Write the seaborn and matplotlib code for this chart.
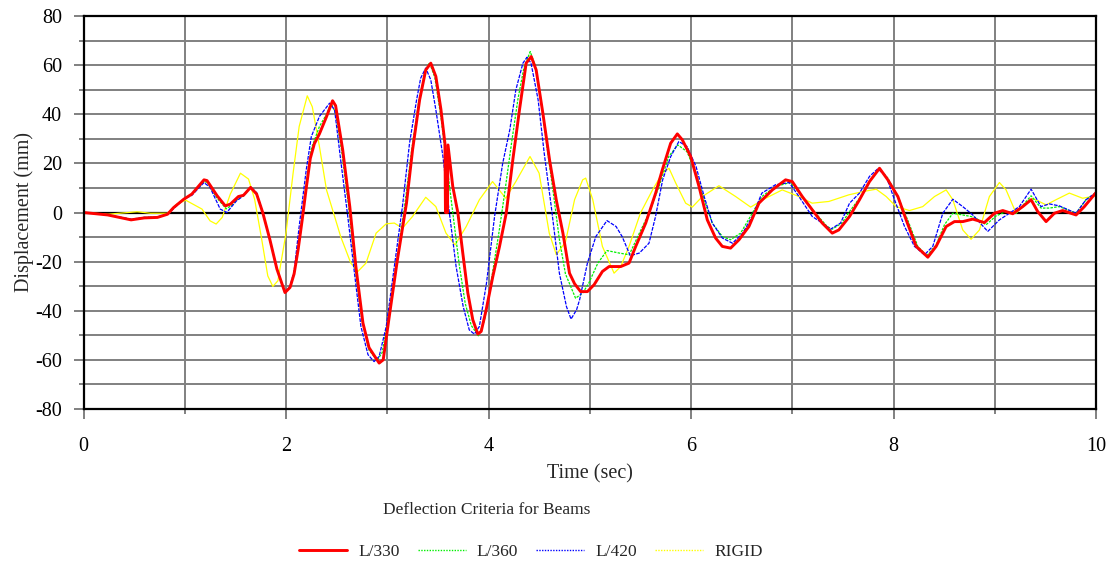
import numpy as np
import pandas as pd
import matplotlib
matplotlib.use("Agg")
import matplotlib.pyplot as plt
from matplotlib.ticker import MultipleLocator
import seaborn as sns

# ---------------- data ----------------
t_l330 = [0, 0.24, 0.47, 0.6, 0.73, 0.83, 0.89, 0.99, 1.07, 1.19, 1.22, 1.32, 1.40, 1.45, 1.53, 1.58,
          1.65, 1.71, 1.77, 1.84, 1.91, 1.99, 2.04, 2.08, 2.12, 2.16, 2.2, 2.24, 2.28, 2.33, 2.4, 2.46,
          2.49, 2.56, 2.63, 2.69, 2.76, 2.82, 2.92, 2.96, 3.02, 3.1, 3.19, 3.25, 3.32, 3.38, 3.43, 3.48,
          3.53, 3.57, 3.575, 3.595, 3.60, 3.647, 3.697, 3.746, 3.796, 3.845, 3.895, 3.928, 3.977, 4.043,
          4.109, 4.175, 4.24, 4.306, 4.372, 4.422, 4.471, 4.537, 4.603, 4.669, 4.735, 4.80, 4.85, 4.91,
          4.977, 5.043, 5.125, 5.191, 5.306, 5.388, 5.454, 5.553, 5.651, 5.717, 5.799, 5.865, 5.914,
          5.997, 6.079, 6.161, 6.243, 6.309, 6.391, 6.474, 6.572, 6.671, 6.803, 6.934, 7.0, 7.099, 7.197,
          7.296, 7.395, 7.46, 7.566, 7.664, 7.763, 7.862, 7.944, 8.043, 8.125, 8.224, 8.339, 8.421, 8.52,
          8.602, 8.684, 8.783, 8.898, 8.997, 9.079, 9.178, 9.276, 9.359, 9.424, 9.507, 9.589, 9.671,
          9.803, 9.885, 10.0]
y_l330 = [0, -1, -3, -2.2, -2, -0.7, 2, 5.4, 7.5, 13.3, 13, 6.8, 2.7, 3.4, 6.5, 7,
          10.2, 7.5, 0, -10.9, -23, -32.6, -30.5, -25, -15, -3, 10, 22, 28, 32, 39, 45.5,
          43.5, 25.5, 2.4, -22, -45, -55, -61.3, -60, -42.3, -19.3, 3.8, 25.5, 45.9, 58, 60.8, 55.4,
          42, 28, 0, 0, 27.5, 10.6, 0, -16.5, -32.8, -43.7, -49.5, -48.4, -39.6, -26,
          -13.8, -0.3, 21.4, 41.8, 60.8, 63.5, 58, 40.4, 21.4, 5.2, -8.4, -24.7, -29, -32.2,
          -32.2, -29.4, -24, -22, -22, -20.6, -13.8, -4.3, 7.9, 17.4, 28.2, 32, 29.6,
          22.8, 10.6, -3, -10.4, -13.8, -14.5, -11.1, -5.7, 3.8, 9.2, 13.3, 12.6, 6.5, 1.1,
          -4.3, -8.4, -7.1, -1.6, 5.2, 12.6, 18, 13.3, 6.5, -3, -13.8, -18.2, -13.8, -5.7,
          -3.7, -3.7, -2.7, -4.1, -0.3, 0.8, -0.5, 2.4, 5.2, 0.4, -3.7, -0.3, 0.8,
          -1, 2.4, 8.1]

t_l360 = [0, 0.24, 0.47, 0.6, 0.73, 0.83, 0.89, 0.99, 1.07, 1.19, 1.22, 1.32, 1.41, 1.46, 1.53, 1.58,
          1.65, 1.71, 1.77, 1.84, 1.91, 1.99, 2.04, 2.08, 2.12, 2.16, 2.2, 2.25, 2.33, 2.4, 2.445, 2.49,
          2.55, 2.62, 2.68, 2.75, 2.82, 2.9, 2.95, 3.01, 3.09, 3.17, 3.24, 3.31, 3.37, 3.417, 3.47, 3.53,
          3.59, 3.65, 3.71, 3.77, 3.83, 3.9, 3.96, 4.03, 4.1, 4.16, 4.23, 4.29, 4.35, 4.412, 4.46, 4.52,
          4.58, 4.64, 4.7, 4.76, 4.86, 4.93, 4.99, 5.08, 5.17, 5.29, 5.39, 5.49, 5.585, 5.684, 5.78,
          5.87, 5.96, 6.05, 6.13, 6.21, 6.31, 6.39, 6.49, 6.605, 6.70, 6.835, 6.98, 7.1, 7.23, 7.345,
          7.395, 7.49, 7.566, 7.664, 7.763, 7.855, 7.944, 8.043, 8.14, 8.24, 8.329, 8.421, 8.503, 8.586,
          8.684, 8.8, 8.914, 9.013, 9.112, 9.211, 9.359, 9.457, 9.539, 9.638, 9.803, 9.901, 10.0]
y_l360 = [0, -1, -2.8, -2, -1.9, -0.7, 2, 5.4, 7.3, 12.6, 12.3, 5.8, 1.5, 2.8, 5.8, 6.8,
          10.3, 7.8, 0, -10.9, -23, -32.5, -30.5, -25, -14, -2, 12, 26, 35, 40, 44.5, 40.5,
          25, 2, -22, -44, -56, -60.2, -57, -43, -21, 2, 25, 45, 57, 61, 55, 39,
          19, -1, -21, -37, -46, -50.2, -44, -27, -9, 8, 29, 46, 59, 65.5, 60, 45,
          26, 8, -11, -25, -34.9, -32.8, -28.8, -20.6, -15.5, -16.5, -17.2, -8.4, -0.3, 10.6, 22.8,
          27.5, 24.8, 16, 5.2, -4.3, -9.8, -11.1, -8.4, -0.3, 6.5, 10.6, 12.2, 6.5, -0.3, -5.7,
          -6.8, -4.3, 0.4, 5.8, 12.6, 18, 14, 6.5, -3, -13.8, -17.6, -13.2, -5, -0.3,
          -1, -1.9, -5, -1.4, 0.4, -0.3, 6.8, 1.8, 1.8, 2.4, -0.3, 5.2, 8.1]

t_l420 = [0, 0.24, 0.47, 0.6, 0.73, 0.83, 0.99, 1.07, 1.19, 1.25, 1.35, 1.415, 1.51, 1.58, 1.65, 1.71,
          1.77, 1.84, 1.91, 1.99, 2.04, 2.08, 2.13, 2.2, 2.25, 2.33, 2.43, 2.48, 2.54, 2.61, 2.68, 2.74,
          2.81, 2.87, 2.92, 2.99, 3.07, 3.15, 3.22, 3.29, 3.33, 3.38, 3.43, 3.48, 3.55, 3.61, 3.68, 3.75,
          3.81, 3.86, 3.91, 3.98, 4.06, 4.14, 4.21, 4.27, 4.34, 4.38, 4.42, 4.49, 4.55, 4.62, 4.70, 4.77,
          4.815, 4.87, 4.9, 4.977, 5.06, 5.17, 5.26, 5.32, 5.40, 5.49, 5.585, 5.65, 5.72, 5.80, 5.88,
          5.96, 6.05, 6.13, 6.21, 6.31, 6.41, 6.51, 6.605, 6.70, 6.835, 6.97, 7.066, 7.197, 7.296,
          7.378, 7.477, 7.566, 7.664, 7.763, 7.845, 7.928, 8.01, 8.109, 8.207, 8.306, 8.388, 8.487,
          8.586, 8.684, 8.783, 8.931, 9.046, 9.145, 9.243, 9.359, 9.457, 9.539, 9.638, 9.803, 9.901, 10.0]
y_l420 = [0, -1, -2.7, -2, -1.8, -0.7, 5.4, 7, 12.2, 10.2, 1.4, 0, 4.7, 6.8, 10.4, 8.1,
          0, -10.9, -23, -32.3, -30, -24, -5.7, 17.4, 30.9, 39.1, 44.5, 41.8, 21.4, -1.6, -26, -46.4,
          -57.9, -60.7, -58.6, -46.4, -22, 2.4, 28.2, 45.9, 54.7, 58.8, 54, 41.8, 22.8, 1.1, -22, -38.3,
          -47.8, -49.5, -46.4, -28.8, -1.6, 20, 33.6, 49.9, 60.8, 63.2, 60.8, 45.9, 24.2, 2.4, -24.7, -38.3,
          -43.4, -39.6, -35.5, -20.6, -9.8, -3.3, -5.7, -9.8, -17.6, -16.5, -12.5, -1.6, 13.3, 22.8, 28.9,
          26.9, 18.7, 6.5, -4.3, -10.4, -12.5, -8.4, -1.6, 7.9, 11.3, 12.2, 6.5, -1.6, -4.3,
          -6.8, -4.3, 3.8, 7.9, 14.7, 17.8, 14.7, 5.2, -5.7, -13.8, -17.2, -13.8, -0.3,
          5.4, 2.4, -1, -7.7, -3, -0.3, 2.4, 9.5, 2.4, 3.5, 2.7, -0.3, 5.2, 8.1]

t_rigid = [0, 0.24, 0.53, 0.66, 0.83, 0.92, 1.01, 1.17, 1.25, 1.31, 1.37, 1.45, 1.55, 1.63, 1.69, 1.76,
           1.82, 1.87, 1.92, 2.0, 2.07, 2.13, 2.21, 2.26, 2.33, 2.4, 2.46, 2.54, 2.64, 2.71, 2.79, 2.89,
           2.99, 3.07, 3.15, 3.25, 3.38, 3.48, 3.58, 3.67, 3.78, 3.91, 4.04, 4.17, 4.27, 4.41, 4.50, 4.60,
           4.67, 4.76, 4.85, 4.93, 4.96, 5.03, 5.125, 5.24, 5.306, 5.388, 5.50, 5.62, 5.717, 5.783, 5.849,
           5.947, 6.013, 6.112, 6.276, 6.441, 6.589, 6.737, 6.901, 7.066, 7.197, 7.362, 7.559, 7.697,
           7.829, 7.928, 8.026, 8.158, 8.289, 8.405, 8.52, 8.586, 8.684, 8.766, 8.849, 8.947, 9.046,
           9.112, 9.211, 9.309, 9.375, 9.507, 9.605, 9.737, 9.868, 10.0]
y_rigid = [0, -0.7, 0.3, -0.3, -0.3, 3.4, 5, 1.4, -3.4, -4.7, -2, 7.5, 16, 13.6, 5.4, -10.9,
           -25.8, -30.1, -27.8, -8.4, 16, 35, 47.5, 43, 26.9, 9.2, 1.1, -9.8, -20.6, -24, -20.6, -8.4,
           -4.6, -4.3, -6.4, -1.6, 6.2, 2.4, -8.4, -13.2, -5.7, 5.2, 12.6, 5.8, 12.6, 22.8, 16, -8.4,
           -17.2, -12, 5.2, 13.3, 14, 5.2, -13.8, -24.7, -22, -13.8, -0.3, 9.2, 16, 18, 12,
           3.8, 2.2, 6.5, 10.9, 6.5, 2.2, 5.8, 9.2, 6.5, 3.8, 4.5, 7.2, 8.5,
           9.5, 6.5, 2.4, 0.8, 2.4, 6.5, 9.2, 5.2, -7.1, -10.9, -7.1, 6.5, 12.2,
           9.2, -0.3, 3.8, 5.8, 3.1, 5.2, 7.9, 5.8, 6.8]

series_names = ["L/330", "L/360", "L/420", "RIGID"]
series_colors = ["#ff0000", "#00f000", "#0000ff", "#ffff00"]

x_ticks = [0, 2, 4, 6, 8, 10]
y_ticks = [-80, -60, -40, -20, 0, 20, 40, 60, 80]

# ---------------- styling ----------------
sns.set_style("white")
plt.rcParams["font.family"] = ["Liberation Serif", "DejaVu Serif"]
plt.rcParams["axes.unicode_minus"] = False

fig = plt.figure(figsize=(11.10, 5.62), dpi=100)
ax = fig.add_axes([83.5 / 1110, 1 - 409 / 562, (1096 - 83.5) / 1110, (409 - 16) / 562])

data = {
    "L/330": (t_l330, y_l330),
    "L/360": (t_l360, y_l360),
    "L/420": (t_l420, y_l420),
    "RIGID": (t_rigid, y_rigid),
}
styles = {
    "L/330": dict(lw=2.1, ls="-", z=6),
    "L/360": dict(lw=0.9, ls=(0, (2, 1)), z=4),
    "L/420": dict(lw=0.9, ls=(0, (3, 1)), z=5),
    "RIGID": dict(lw=0.9, ls="-", z=3),
}
for name, color in zip(series_names, series_colors):
    t, y = data[name]
    df = pd.DataFrame({"t": t, "y": y})
    st = styles[name]
    sns.lineplot(data=df, x="t", y="y", ax=ax, color=color, lw=st["lw"], linestyle=st["ls"],
                 estimator=None, sort=False, zorder=st["z"])

ax.axhline(0, color="black", lw=1.6, zorder=2.5)

ax.set_xlim(0, 10)
ax.set_ylim(-80, 80)
ax.set_xticks(x_ticks)
ax.set_yticks(y_ticks)
ax.xaxis.set_minor_locator(MultipleLocator(1))
ax.yaxis.set_minor_locator(MultipleLocator(10))
ax.grid(True, which="both", color="#808080", lw=1.4, zorder=1)
ax.set_axisbelow(True)
ax.tick_params(which="major", direction="out", length=7, width=1.4, color="#808080",
               labelsize=14.5, labelcolor="black", left=True, bottom=True)
ax.tick_params(axis="x", which="major", pad=13)
ax.tick_params(axis="y", which="major", pad=8.5)
ax.tick_params(which="minor", direction="out", length=3.5, width=1.4, color="#808080",
               left=True, bottom=True)
for sp in ax.spines.values():
    sp.set_visible(True)
    sp.set_color("black")
    sp.set_linewidth(1.6)
    sp.set_zorder(7)

ax.set_xlabel("Time (sec)", fontsize=14.5, labelpad=6)
ax.set_ylabel("Displacement (mm)", fontsize=14.5, labelpad=1)

fig.text(487 / 1110, 1 - 510 / 562, "Deflection Criteria for Beams", fontsize=12.5,
         ha="center", va="center")

leg_handles = [plt.Line2D([], [], color=c, lw=(2.1 if n == "L/330" else 1.0),
                          linestyle=("-" if n == "L/330" else (0, (1, 1))))
               for n, c in zip(series_names, series_colors)]
fig.legend(leg_handles, series_names, loc="center", bbox_to_anchor=(531 / 1110, 1 - 552 / 562),
           ncol=4, frameon=False, fontsize=12.5, handlelength=2.75, handletextpad=0.65,
           columnspacing=1.05)

fig.savefig("out.png", dpi=100)
